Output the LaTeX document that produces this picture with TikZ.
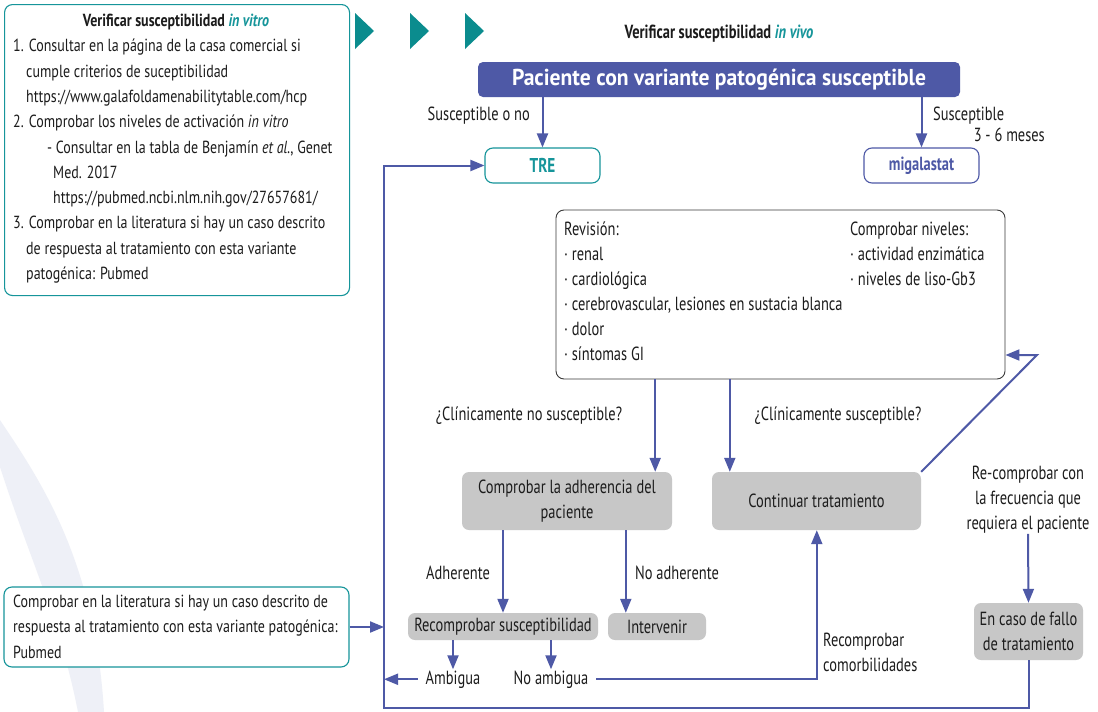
\documentclass[tikz,border=0pt]{standalone}
\usepackage{fontspec}
\setmainfont{PT Sans}
\newfontfamily\condfont{PT Sans}[FakeStretch=0.76]
\newfontfamily\headfont{PT Sans}[FakeStretch=0.94]
\newfontfamily\listfont{PT Sans}[FakeStretch=0.80]
\usetikzlibrary{arrows.meta}

\definecolor{purp}{HTML}{4E59A6}
\definecolor{tealc}{HTML}{16959A}
\definecolor{chev}{HTML}{0B8C8E}
\definecolor{boxgray}{HTML}{C7C7C7}
\definecolor{wmark}{HTML}{EEF0F7}
\definecolor{ink}{HTML}{1C1C1C}
\definecolor{revline}{HTML}{3A3A3A}

\tikzset{
  flow/.style={font=\condfont\fontsize{19}{25}\selectfont, text=ink},
  listtext/.style={font=\listfont\fontsize{17.5}{25.3}\selectfont, text=ink},
  tealbox/.style={draw=tealc, line width=1.1pt, rounded corners=8pt, fill=white},
  graybox/.style={fill=boxgray, rounded corners=7pt, align=center, inner sep=0pt, flow},
  lbl/.style={inner sep=0pt, flow},
  arr/.style={draw=purp, line width=2pt, -{Triangle[length=14pt,width=11pt]}},
}

\begin{document}
\begin{tikzpicture}[x=1pt,y=-1pt]
\useasboundingbox (0,0) rectangle (1098,712);
\fill[white] (0,0) rectangle (1098,712);

% faint background band
\fill[wmark] (0,420) .. controls (40,480) and (95,560) .. (104,712)
  -- (78,712) .. controls (60,620) and (30,560) .. (0,467) -- cycle;

% panel: in vitro checks
\node[tealbox, minimum width=345, minimum height=291, anchor=north west] (vitrobox) at (4,4) {};
\node[listtext, inner sep=0pt, anchor=base] (vitrotitle) at (176,26)
  {\bfseries Verificar susceptibilidad \textcolor{tealc}{\itshape in vitro}};
\node[listtext, inner sep=0pt, anchor=north west, align=left] (vitrotext) at (13,39)
  {1. Consultar en la página de la casa comercial si\\
   \hspace*{13pt}cumple criterios de suceptibilidad\\
   \hspace*{13pt}https://www.galafoldamenabilitytable.com/hcp\\
   2. Comprobar los niveles de activación \textit{in vitro}\\
   \hspace*{34pt}- Consultar en la tabla de Benjamín \textit{et al.}, Genet\\
   \hspace*{40pt}Med. 2017\\
   \hspace*{40pt}https://pubmed.ncbi.nlm.nih.gov/27657681/\\
   3. Comprobar en la literatura si hay un caso descrito\\
   \hspace*{13pt}de respuesta al tratamiento con esta variante\\
   \hspace*{13pt}patogénica: Pubmed};

% chevrons
\fill[chev] (355,13) -- (374,31) -- (355,49) -- cycle;
\fill[chev] (410,13) -- (429,31) -- (410,49) -- cycle;
\fill[chev] (465,13) -- (484,31) -- (465,49) -- cycle;

% in vivo heading
\node[flow, inner sep=0pt, anchor=base] (vivotitle) at (719,38)
  {\bfseries Verificar susceptibilidad \textcolor{tealc}{\itshape in vivo}};

% main nodes
\node[fill=purp, rounded corners=5pt, minimum width=482, minimum height=35,
      font=\headfont\fontsize{23}{25}\selectfont\bfseries, text=white, inner sep=0pt] (pac) at (719,79.5)
  {Paciente con variante patogénica susceptible};
\node[tealbox, minimum width=115, minimum height=35, inner sep=0pt,
      font=\condfont\fontsize{20}{22}\selectfont\bfseries, text=tealc] (tre) at (542.5,165.5) {TRE};
\node[draw=purp, line width=1.1pt, rounded corners=8pt, fill=white, minimum width=115, minimum height=35, inner sep=0pt,
      font=\condfont\fontsize{19}{22}\selectfont\bfseries, text=purp] (mig) at (921.5,165.5) {migalastat};

\node[draw=revline, line width=0.9pt, rounded corners=8pt, fill=white, minimum width=449, minimum height=169] (rev) at (780.5,294.5) {};
\node[lbl, anchor=north west, align=left] (revleft) at (564,222)
  {Revisión:\\· renal\\· cardiológica\\· cerebrovascular, lesiones en sustacia blanca\\· dolor\\· síntomas GI};
\node[lbl, anchor=north west, align=left] (revright) at (850,222)
  {Comprobar niveles:\\· actividad enzimática\\· niveles de liso-Gb3};

\node[graybox, minimum width=210, minimum height=58] (adh) at (567,501)
  {Comprobar la adherencia del\\paciente};
\node[graybox, minimum width=209, minimum height=58] (cont) at (816.5,501)
  {Continuar tratamiento};
\node[graybox, minimum width=190, minimum height=27] (recomp) at (503,626.5)
  {Recomprobar susceptibilidad};
\node[graybox, minimum width=98, minimum height=27] (interv) at (657,626.5)
  {Intervenir};
\node[graybox, minimum width=109, minimum height=57] (fallo) at (1028.5,631.5)
  {En caso de fallo\\de tratamiento};
\node[lbl, align=center] (recheck) at (1028,500)
  {Re-comprobar con\\la frecuencia que\\requiera el paciente};

\node[tealbox, minimum width=345, minimum height=80, inner sep=0pt] (lit) at (176.5,627) {};
\node[listtext, inner sep=0pt, anchor=north west, align=left] (littext) at (13,595)
  {Comprobar en la literatura si hay un caso descrito de\\
   respuesta al tratamiento con esta variante patogénica:\\
   Pubmed};

\node[lbl, anchor=base] (amb) at (453,684) {Ambigua};
\node[lbl, anchor=base] (noamb) at (551,684) {No ambigua};

% edge labels
\node[lbl, anchor=base east] (l1) at (530,120) {Susceptible o no};
\node[lbl, anchor=base west] (l2) at (933,120) {Susceptible};
\node[lbl, anchor=base east] (l3) at (1045,141) {3 - 6 meses};
\node[lbl, anchor=base] (l4) at (529,420) {¿Clínicamente no susceptible?};
\node[lbl, anchor=base] (l5) at (838,420) {¿Clínicamente susceptible?};
\node[lbl, anchor=base] (l6) at (458,579) {Adherente};
\node[lbl, anchor=base] (l7) at (677,579) {No adherente};
\node[lbl, anchor=west, align=left] (l8) at (823,652) {Recomprobar\\comorbilidades};

% helper points
\coordinate (loopbl) at (384,708);
\coordinate (a1) at ([xshift=-17pt]adh.north east);
\coordinate (a2) at ([xshift=18pt]cont.north west);
\coordinate (a3) at ([xshift=105pt]cont.south west);
\coordinate (a4) at ([xshift=18pt]interv.north west);
\coordinate (kink) at (1037,355);

% connectors
\draw[arr] (pac.south -| tre) -- (tre.north);
\draw[arr] (pac.south -| mig) -- (mig.north);
\draw[arr] (fallo.south) |- (loopbl) |- (tre.west);
\draw[arr] (rev.south -| a1) -- (a1);
\draw[arr] (rev.south -| a2) -- (a2);
\draw[arr] (cont.north east) -- (kink) -- (kink -| rev.east);
\draw[arr] (recheck.south) -- (fallo.north);
\draw[arr] (adh.south -| recomp) -- (recomp.north);
\draw[arr] (adh.south -| a4) -- (a4);
\draw[arr] (recomp.south -| amb) -- ([yshift=1pt]amb.north);
\draw[arr] (recomp.south -| noamb) -- ([yshift=1pt]noamb.north);
\draw[arr] ([xshift=-8pt]amb.west) -- (amb.west -| loopbl);
\draw[arr] ([xshift=8pt]noamb.east) -| (a3);
\draw[arr] (lit.east) -- (lit.east -| loopbl);
\end{tikzpicture}
\end{document}
